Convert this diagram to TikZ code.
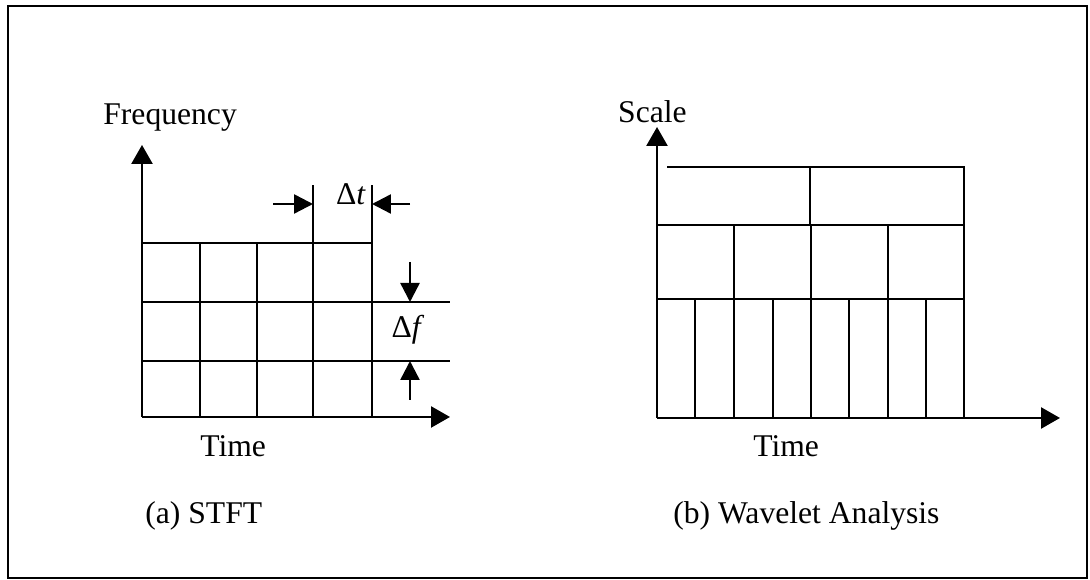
\documentclass[tikz,border=0pt]{standalone}
\usepackage{fontspec}
\setmainfont{Liberation Serif}
\usetikzlibrary{arrows.meta,positioning}
\tikzset{
	grid/.style={line width=1.4pt},
	axis/.style={line width=1.4pt, -{Triangle[length=0.38cm,width=0.42cm]}},
	marker/.style={line width=1.4pt, -{Triangle[length=0.38cm,width=0.38cm]}},
	lbl/.style={inner sep=0pt, font=\fontsize{18}{21}\selectfont},
}

\begin{document}
\begin{tikzpicture}[x=0.02cm, y=-0.02cm]
	\useasboundingbox (0,0) rectangle (1090,580);
	% --- frame ---
	\draw[line width=1.4pt] (8,6) rectangle (1087,578);

	% --- (a) STFT ---
	\coordinate (oa) at (142,417);
	\coordinate (fa) at (142,145);
	\coordinate (ta) at (450,417);
	\draw[axis] (oa) -- (fa);
	\draw[axis] (oa) -- (ta);
	\foreach \x in {200,257} \draw[grid] (\x,417) -- (\x,243);
	\foreach \x in {313,372} \draw[grid] (\x,417) -- (\x,185);
	\draw[grid] (142,243) -- (372,243);
	\foreach \y in {302,361} \draw[grid] (142,\y) -- (450,\y);
	% delta markers
	\coordinate (dtl) at (273,204);
	\coordinate (dtr) at (410,204);
	\coordinate (dfu) at (410,262);
	\coordinate (dfd) at (410,400);
	\draw[marker] (dtl) -- (313,204);
	\draw[marker] (dtr) -- (372,204);
	\draw[marker] (dfu) -- (410,302);
	\draw[marker] (dfd) -- (410,361);

	\node[lbl, anchor=base west] (freq) at (103,125) {Frequency};
	\node[lbl, anchor=base] (dt) at (351,205) {Δ\textit{t}};
	\node[lbl, anchor=base] (df) at (408,338) {Δ\textit{f}};
	\node[lbl, anchor=base west] (timea) at (200,457) {Time};
	\node[lbl, anchor=base west] (capa) at (145,524) {(a) STFT};

	% --- (b) Wavelet ---
	\coordinate (ob) at (657,418);
	\coordinate (sb) at (657,127);
	\coordinate (tb) at (1060,418);
	\draw[axis] (ob) -- (sb);
	\draw[axis] (ob) -- (tb);
	\draw[grid] (667,167) -- (964,167) -- (964,418);
	\draw[grid] (810,167) -- (810,225);
	\foreach \y in {225,299} \draw[grid] (657,\y) -- (964,\y);
	\foreach \x in {734,811,888} \draw[grid] (\x,225) -- (\x,418);
	\foreach \x in {695,773,849,926} \draw[grid] (\x,299) -- (\x,418);

	\node[lbl, anchor=base east] (scale) at (687,123) {Scale};
	\node[lbl, anchor=base west] (timeb) at (753,457) {Time};
	\node[lbl, anchor=base west] (capb) at (673,524) {(b) Wavelet Analysis};
\end{tikzpicture}
\end{document}
